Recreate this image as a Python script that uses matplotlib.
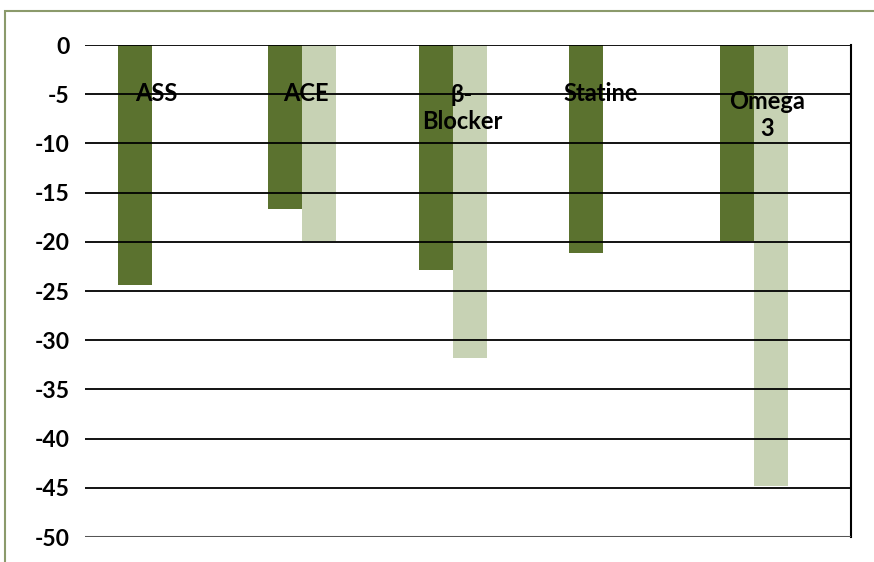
import matplotlib.pyplot as plt
from matplotlib.patches import Rectangle
import numpy as np

categories = ["ASS", "ACE", "β-\nBlocker", "Statine", "Omega\n3"]
serie1 = [-24.4, -16.7, -22.9, -21.1, -19.9]
serie2 = [0, -19.9, -31.8, 0, -44.8]
yticks = [0, -5, -10, -15, -20, -25, -30, -35, -40, -45, -50]

# position des etiquettes (en unites de donnees)
label_dx = [0.03, 0.02, 0.06, -0.02, 0.09]
label_y = [-4.9, -4.9, -6.4, -4.9, -7.1]

plt.rcParams['font.family'] = ['Lato', 'DejaVu Sans']

fig = plt.figure(figsize=(8.74, 5.62), dpi=100)
ax = fig.add_axes([85 / 874, 1 - 537 / 562, (851 - 85) / 874, (537 - 45) / 562])

x = np.arange(len(categories))
w = 0.226
ax.bar(x - w / 2, serie1, width=w, color='#5b722f', zorder=2)
ax.bar(x + w / 2, serie2, width=w, color='#c7d2b4', zorder=2)

for i, lab in enumerate(categories):
    ax.text(x[i] + label_dx[i], label_y[i], lab, ha='center', va='center',
            fontsize=17, fontweight='bold', color='black', linespacing=1.2, zorder=4)

for t in yticks[:-1]:
    ax.axhline(t, color='black', lw=1.3, zorder=3)
ax.axhline(-50, color='#555555', lw=2.2, zorder=3)

ax.set_xlim(-0.445, 4.645)
ax.set_ylim(-50, 0)
ax.set_yticks(yticks)
ax.set_yticklabels([str(t) for t in yticks], fontsize=16.5, fontweight='bold')
ax.tick_params(axis='y', length=0, pad=11)
ax.set_xticks([])
for s in ['top', 'left', 'bottom']:
    ax.spines[s].set_visible(False)
ax.spines['right'].set_color('black')
ax.spines['right'].set_linewidth(1.5)

fig.patches.append(Rectangle((5 / 874, -0.1), 1.2, 1 - 11 / 562 + 0.1, transform=fig.transFigure,
                             fill=False, edgecolor='#8b9a6b', lw=1.5))

fig.savefig("out.png", dpi=100)
